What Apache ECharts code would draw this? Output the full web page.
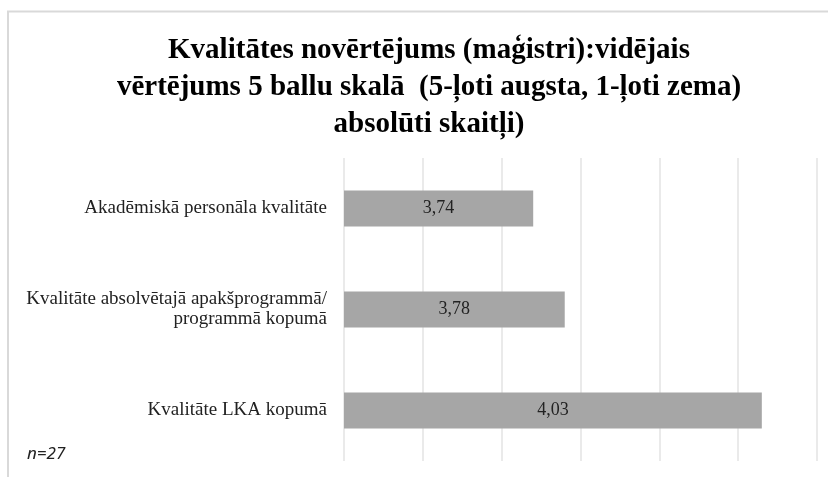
<!DOCTYPE html>
<html>
<head>
<meta charset="utf-8">
<script src="https://cdn.jsdelivr.net/npm/echarts@6/dist/echarts.min.js"></script>
<style>
  html, body { margin: 0; padding: 0; background: #fff; }
  #main { width: 828px; height: 477px; }
</style>
</head>
<body>
<div id="main"></div>
<script>
// categories listed bottom to top (category axis starts at the bottom)
const categories = [
  "Kvalitāte LKA kopumā",
  "Kvalitāte absolvētajā apakšprogrammā/\nprogrammā kopumā",
  "Akadēmiskā personāla kvalitāte"
];
const values = [4.03, 3.78, 3.74];
const axisMin = 3.5;
const axisMax = 4.1;
const axisStep = 0.1;

const chart = echarts.init(document.getElementById("main"));
chart.setOption({
  animation: false,
  title: {
    text: "Kvalitātes novērtējums (maģistri):vidējais\nvērtējums 5 ballu skalā  (5-ļoti augsta, 1-ļoti zema)\nabsolūti skaitļi)",
    left: 424,
    top: 27,
    textAlign: "center",
    textStyle: {
      fontFamily: "Liberation Serif",
      fontWeight: "bold",
      fontSize: 29,
      lineHeight: 37,
      color: "#000"
    }
  },
  graphic: [
    {
      type: "polyline",
      shape: { points: [[8, 477], [8, 11.5], [828, 11.5]] },
      style: { stroke: "#d9d9d9", lineWidth: 2, fill: null }
    },
    {
      type: "text",
      left: 27,
      top: 446,
      style: {
        text: "n=27",
        font: "italic 17px 'Noto Sans'",
        fill: "#222"
      }
    }
  ],
  grid: { left: 344, right: 11, top: 158, bottom: 16 },
  xAxis: {
    type: "value",
    min: axisMin,
    max: axisMax,
    interval: axisStep,
    axisLabel: { show: false },
    axisLine: { show: false },
    axisTick: { show: false },
    splitLine: { show: true, lineStyle: { color: "#e3e3e3", width: 1.5 } }
  },
  yAxis: {
    type: "category",
    data: categories,
    axisLine: { show: false },
    axisTick: { show: false },
    axisLabel: {
      margin: 17,
      fontFamily: "Liberation Serif",
      fontSize: 19,
      lineHeight: 20,
      color: "#222",
      align: "right"
    }
  },
  series: [
    {
      type: "bar",
      data: values,
      barWidth: 36,
      itemStyle: { color: "#a6a6a6" },
      label: {
        show: true,
        position: "inside",
        fontFamily: "Liberation Serif",
        fontSize: 18,
        color: "#222",
        formatter: p => p.value.toFixed(2).replace(".", ",")
      }
    }
  ]
});
</script>
</body>
</html>
